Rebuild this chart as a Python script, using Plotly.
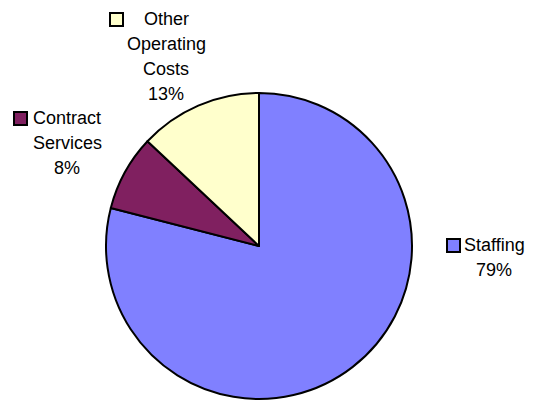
import plotly.graph_objects as go

# Budget breakdown
categories = ["Staffing", "Contract Services", "Other Operating Costs"]
shares = [79, 8, 13]
colors = ["#8080FF", "#802060", "#FFFFCC"]

W, H = 533, 401

fig = go.Figure(
    go.Pie(
        labels=categories,
        values=shares,
        sort=False,
        direction="clockwise",
        rotation=0,
        textinfo="none",
        hoverinfo="label+percent",
        marker=dict(colors=colors, line=dict(color="#000000", width=2)),
        domain=dict(x=[106 / W, 412 / W], y=[1 - 399 / H, 1 - 93 / H]),
        showlegend=False,
    )
)

font = dict(family="Liberation Sans, Arial, sans-serif", size=18, color="#000000")

# Label blocks: (text lines, centre x, first line y, key-square left x)
label_blocks = [
    (["Other", "Operating", "Costs", f"{shares[2]}%"], 166, 19, 110, colors[2]),
    (["Contract", "Services", f"{shares[1]}%"], 67, 118, 14, colors[1]),
    (["Staffing", f"{shares[0]}%"], 494, 245, 447, colors[0]),
]
line_gap = 25

annotations = []
shapes = []
for lines, cx, y0, sqx, col in label_blocks:
    for i, line in enumerate(lines):
        annotations.append(
            dict(
                text=line,
                x=cx / W,
                y=1 - (y0 + i * line_gap) / H,
                xref="paper",
                yref="paper",
                xanchor="center",
                yanchor="middle",
                showarrow=False,
                font=font,
            )
        )
    shapes.append(
        dict(
            type="rect",
            xref="paper",
            yref="paper",
            x0=sqx / W,
            x1=(sqx + 13) / W,
            y0=1 - (y0 + 7) / H,
            y1=1 - (y0 - 6) / H,
            fillcolor=col,
            line=dict(color="#000000", width=2),
        )
    )

fig.update_layout(
    width=W,
    height=H,
    margin=dict(l=0, r=0, t=0, b=0),
    paper_bgcolor="#FFFFFF",
    plot_bgcolor="#FFFFFF",
    annotations=annotations,
    shapes=shapes,
)

fig.write_html("out.html")
